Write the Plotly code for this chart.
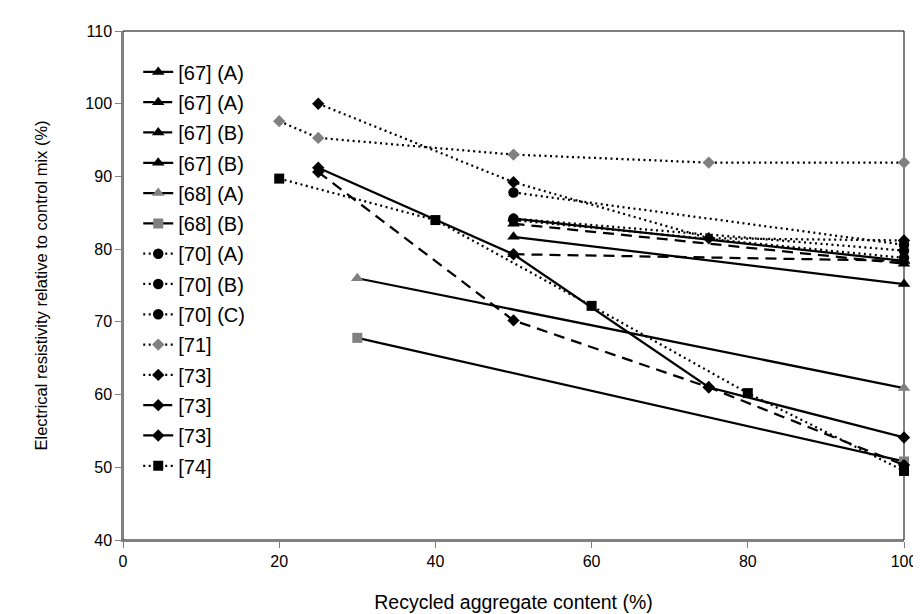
import plotly.graph_objects as go

# ---- data ----
names = ["[67] (A)", "[67] (A)", "[67] (B)", "[67] (B)", "[68] (A)", "[68] (B)",
         "[70] (A)", "[70] (B)", "[70] (C)", "[71]", "[73]", "[73]", "[73]", "[74]"]

x_67A_solid = [50, 100]; y_67A_solid = [81.7, 75.2]
x_67A_dash = [50, 100];  y_67A_dash = [83.5, 78.0]
x_67B_dash = [50, 100];  y_67B_dash = [79.3, 78.4]
x_67B_solid = [50, 100]; y_67B_solid = [84.2, 78.4]
x_68A = [30, 100]; y_68A = [76.0, 60.9]
x_68B = [30, 100]; y_68B = [67.8, 50.8]
x_70A = [50, 100]; y_70A = [87.8, 80.6]
x_70B = [50, 100]; y_70B = [84.2, 79.8]
x_70C = [50, 100]; y_70C = [84.0, 78.8]
x_71 = [20, 25, 50, 75, 100]; y_71 = [97.6, 95.3, 93.0, 91.9, 91.9]
x_73_dot = [25, 50, 75, 100]; y_73_dot = [100.0, 89.2, 81.5, 81.2]
x_73_dash = [25, 50, 75, 100]; y_73_dash = [90.6, 70.2, 61.0, 50.3]
x_73_solid = [25, 50, 75, 100]; y_73_solid = [91.2, 79.3, 61.0, 54.1]
x_74 = [20, 40, 60, 80, 100]; y_74 = [89.7, 84.0, 72.2, 60.2, 49.5]

x_ticks = [0, 20, 40, 60, 80, 100]
y_ticks = [40, 50, 60, 70, 80, 90, 100, 110]

BLACK = "#000000"
GRAY = "#808080"
DOT = "2px,3.5px"
DASH = "11px,7px"

series = [
    (x_67A_solid, y_67A_solid, "solid", "triangle-up", BLACK),
    (x_67A_dash, y_67A_dash, DASH, "triangle-up", BLACK),
    (x_67B_dash, y_67B_dash, DASH, "triangle-up", BLACK),
    (x_67B_solid, y_67B_solid, "solid", "triangle-up", BLACK),
    (x_68A, y_68A, "solid", "triangle-up", GRAY),
    (x_68B, y_68B, "solid", "square", GRAY),
    (x_70A, y_70A, DOT, "circle", BLACK),
    (x_70B, y_70B, DOT, "circle", BLACK),
    (x_70C, y_70C, DOT, "circle", BLACK),
    (x_71, y_71, DOT, "diamond", GRAY),
    (x_73_dot, y_73_dot, DOT, "diamond", BLACK),
    (x_73_dash, y_73_dash, DASH, "diamond", BLACK),
    (x_73_solid, y_73_solid, "solid", "diamond", BLACK),
    (x_74, y_74, DOT, "square", BLACK),
]
sizes = {"triangle-up": 11, "circle": 10.5, "diamond": 9.5, "square": 10}

fig = go.Figure()
for i, (xs, ys, dash, sym, mcol) in enumerate(series):
    fig.add_trace(go.Scatter(
        x=xs, y=ys, name=names[i], mode="lines+markers",
        legendgroup="g%d" % i, cliponaxis=False,
        line=dict(color=BLACK, width=2.25, dash=dash),
        marker=dict(symbol=sym, size=sizes[sym], color=mcol, line=dict(width=0)),
    ))

FONT = "Liberation Sans, Arial, sans-serif"
fig.update_layout(
    width=921, height=614,
    margin=dict(l=114.5, r=23, t=23, b=80),
    paper_bgcolor="white", plot_bgcolor="white",
    font=dict(family=FONT, size=16, color="black"),
    showlegend=True,
    legend=dict(x=0.0195, y=0.958, xanchor="left", yanchor="top",
                bgcolor="rgba(0,0,0,0)", font=dict(size=20),
                traceorder="grouped", tracegroupgap=1.3,
                itemclick=False),
    xaxis=dict(range=[0, 100], tickvals=x_ticks, ticktext=[str(v) for v in x_ticks],
               showgrid=False, zeroline=False, showline=True, linecolor=GRAY, linewidth=1.5,
               ticks="outside", ticklen=6, tickcolor=GRAY, tickfont=dict(size=16),
               title=dict(text="Recycled aggregate content (%)", standoff=26,
                          font=dict(size=19.5))),
    yaxis=dict(range=[40, 110], tickvals=y_ticks, ticktext=[str(v) for v in y_ticks],
               showgrid=False, zeroline=False, showline=True, linecolor=GRAY, linewidth=1.5,
               ticks="outside", ticklen=6, tickcolor=GRAY, tickfont=dict(size=16),
               title=dict(text="Electrical resistivity relative to control mix (%)", standoff=34,
                          font=dict(size=16.5))),
)
fig.add_shape(type="rect", xref="paper", yref="paper", x0=0, y0=0, x1=1, y1=1,
              line=dict(color=BLACK, width=1), layer="below")

fig.write_html("out.html")
